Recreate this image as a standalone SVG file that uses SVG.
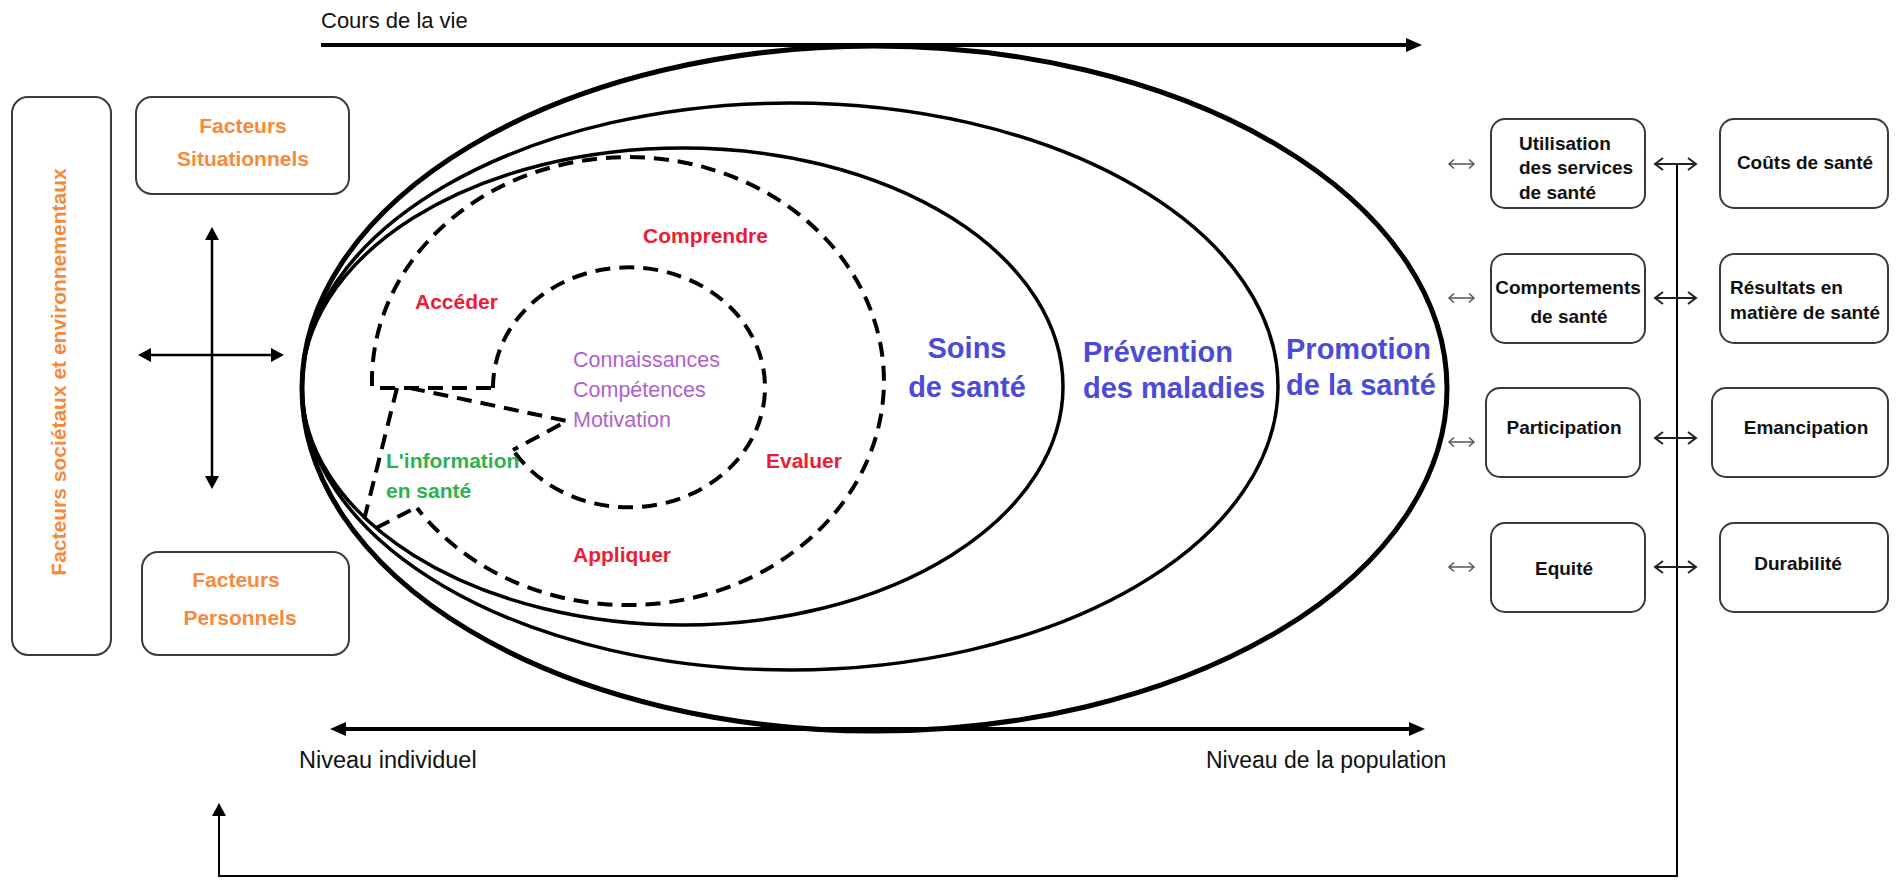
<svg xmlns="http://www.w3.org/2000/svg" width="1901" height="880" viewBox="0 0 1901 880">
<style>
text{font-family:"Liberation Sans",Arial,sans-serif}
.box{fill:#fff;stroke:#3a3a3a;stroke-width:2}
.or{fill:#F7893B;font-weight:bold;font-size:21px}
.bx{fill:#111;font-weight:bold;font-size:19px}
.red{fill:#EE1B35;font-weight:bold;font-size:21px}
.grn{fill:#2BB350;font-weight:bold;font-size:21px}
.pur{fill:#B061CC;font-size:21.5px}
.blu{fill:#4B4BD8;font-weight:bold;font-size:29px}
.lbl{fill:#111;font-size:22px}
.ell{fill:none;stroke:#000}
.dash{fill:none;stroke:#000;stroke-width:4;stroke-dasharray:15 9}
.ln{fill:none;stroke:#000}
</style>
<defs>
<marker id="ah" markerUnits="userSpaceOnUse" markerWidth="16" markerHeight="14" refX="4" refY="7" orient="auto-start-reverse" overflow="visible"><path d="M0,0 L16,7 L0,14 z" fill="#000"/></marker>
<marker id="ahs" markerUnits="userSpaceOnUse" markerWidth="13" markerHeight="14" refX="3" refY="7" orient="auto-start-reverse" overflow="visible"><path d="M0,0 L13,7 L0,14 z" fill="#000"/></marker>
<marker id="chev" markerUnits="userSpaceOnUse" markerWidth="10" markerHeight="14" refX="9" refY="6" orient="auto-start-reverse" overflow="visible"><path d="M1,0 L9,6 L1,12" fill="none" stroke="#222" stroke-width="2"/></marker>
<marker id="chevs" markerUnits="userSpaceOnUse" markerWidth="7" markerHeight="10" refX="6" refY="4.5" orient="auto-start-reverse" overflow="visible"><path d="M1,0 L6,4.5 L1,9" fill="none" stroke="#555" stroke-width="1.5"/></marker>
</defs>
<rect width="1901" height="880" fill="#fff"/>

<g id="zones">
<ellipse class="ell" cx="874.5" cy="388.5" rx="572.5" ry="342.5" stroke-width="5"/>
<ellipse class="ell" cx="790" cy="386.5" rx="488" ry="283.5" stroke-width="3.5"/>
<ellipse class="ell" cx="682.5" cy="386.5" rx="380.5" ry="238.5" stroke-width="3.5"/>
</g>

<g id="health-literacy">
<path class="dash" d="M372,386 A256,224 0 1 1 417,508"/>
<path class="dash" d="M493,388 A136,120 0 1 1 513,450"/>
<path class="dash" d="M380,388 L492,388"/>
<path class="dash" d="M397,388 L364,520"/>
<path class="dash" d="M410,388 L567,421 L513,450"/>
<path class="dash" d="M376,528 L417,507"/>
</g>

<g id="connectors">
<line class="ln" x1="321" y1="45" x2="1410" y2="45" stroke-width="4" marker-end="url(#ah)"/>
<line class="ln" x1="342" y1="729" x2="1413" y2="729" stroke-width="4" marker-start="url(#ah)" marker-end="url(#ah)"/>
<line class="ln" x1="148" y1="355" x2="274" y2="355" stroke-width="2.5" marker-start="url(#ahs)" marker-end="url(#ahs)"/>
<line class="ln" x1="212" y1="237" x2="212" y2="479" stroke-width="2.5" marker-start="url(#ahs)" marker-end="url(#ahs)"/>
<path class="ln" d="M1677,164 L1677,876 L219,876 L219,813" stroke-width="2" marker-end="url(#ahs)"/>
<g stroke="#222" stroke-width="2">
<line x1="1655" y1="164" x2="1696" y2="164" marker-start="url(#chev)" marker-end="url(#chev)"/>
<line x1="1655" y1="298" x2="1696" y2="298" marker-start="url(#chev)" marker-end="url(#chev)"/>
<line x1="1655" y1="438" x2="1696" y2="438" marker-start="url(#chev)" marker-end="url(#chev)"/>
<line x1="1655" y1="567" x2="1696" y2="567" marker-start="url(#chev)" marker-end="url(#chev)"/>
</g>
<g stroke="#555" stroke-width="1.5">
<line x1="1449" y1="164" x2="1474" y2="164" marker-start="url(#chevs)" marker-end="url(#chevs)"/>
<line x1="1449" y1="298" x2="1474" y2="298" marker-start="url(#chevs)" marker-end="url(#chevs)"/>
<line x1="1449" y1="442" x2="1474" y2="442" marker-start="url(#chevs)" marker-end="url(#chevs)"/>
<line x1="1449" y1="567" x2="1474" y2="567" marker-start="url(#chevs)" marker-end="url(#chevs)"/>
</g>
</g>

<g id="axis-labels">
<text class="lbl" x="321" y="28">Cours de la vie</text>
<text class="lbl" x="299" y="768" style="font-size:23.5px">Niveau individuel</text>
<text class="lbl" x="1206" y="768" style="font-size:23px">Niveau de la population</text>
</g>

<g id="facteurs-societaux">
<rect class="box" x="12" y="97" width="99" height="558" rx="16"/>
<text class="or" transform="translate(66,372) rotate(-90)" text-anchor="middle">Facteurs sociétaux et environnementaux</text>
</g>
<g id="facteurs-situationnels">
<rect class="box" x="136" y="97" width="213" height="97" rx="16"/>
<text class="or" x="243" y="133" text-anchor="middle">Facteurs</text>
<text class="or" x="243" y="166" text-anchor="middle">Situationnels</text>
</g>
<g id="facteurs-personnels">
<rect class="box" x="142" y="552" width="207" height="103" rx="16"/>
<text class="or" x="236" y="587" text-anchor="middle">Facteurs</text>
<text class="or" x="240" y="625" text-anchor="middle">Personnels</text>
</g>

<g id="labels-literacy">
<text class="red" x="643" y="243">Comprendre</text>
<text class="red" x="415" y="309">Accéder</text>
<text class="red" x="766" y="468">Evaluer</text>
<text class="red" x="573" y="562">Appliquer</text>
<text class="grn" x="386" y="468">L'information</text>
<text class="grn" x="386" y="498">en santé</text>
<text class="pur" x="573" y="367">Connaissances</text>
<text class="pur" x="573" y="397">Compétences</text>
<text class="pur" x="573" y="427">Motivation</text>
</g>

<g id="soins">
<text class="blu" x="967" y="358" text-anchor="middle">Soins</text>
<text class="blu" x="967" y="397" text-anchor="middle">de santé</text>
</g>
<g id="prevention">
<text class="blu" x="1083" y="362">Prévention</text>
<text class="blu" x="1083" y="398">des maladies</text>
</g>
<g id="promotion">
<text class="blu" x="1286" y="359">Promotion</text>
<text class="blu" x="1286" y="395">de la santé</text>
</g>

<g id="utilisation">
<rect class="box" x="1491" y="119" width="154" height="89" rx="14"/>
<text class="bx" x="1519" y="150">Utilisation</text>
<text class="bx" x="1519" y="174">des services</text>
<text class="bx" x="1519" y="199">de santé</text>
</g>
<g id="couts">
<rect class="box" x="1720" y="119" width="168" height="89" rx="14"/>
<text class="bx" x="1805" y="169" text-anchor="middle">Coûts de santé</text>
</g>
<g id="comportements">
<rect class="box" x="1491" y="254" width="154" height="89" rx="14"/>
<text class="bx" x="1568" y="294" text-anchor="middle">Comportements</text>
<text class="bx" x="1569" y="323" text-anchor="middle">de santé</text>
</g>
<g id="resultats">
<rect class="box" x="1720" y="254" width="168" height="89" rx="14"/>
<text class="bx" x="1730" y="294">Résultats en</text>
<text class="bx" x="1730" y="319">matière de santé</text>
</g>
<g id="participation">
<rect class="box" x="1486" y="388" width="154" height="89" rx="14"/>
<text class="bx" x="1564" y="434" text-anchor="middle">Participation</text>
</g>
<g id="emancipation">
<rect class="box" x="1712" y="388" width="176" height="89" rx="14"/>
<text class="bx" x="1806" y="434" text-anchor="middle">Emancipation</text>
</g>
<g id="equite">
<rect class="box" x="1491" y="523" width="154" height="89" rx="14"/>
<text class="bx" x="1564" y="575" text-anchor="middle">Equité</text>
</g>
<g id="durabilite">
<rect class="box" x="1720" y="523" width="168" height="89" rx="14"/>
<text class="bx" x="1798" y="570" text-anchor="middle">Durabilité</text>
</g>
</svg>
